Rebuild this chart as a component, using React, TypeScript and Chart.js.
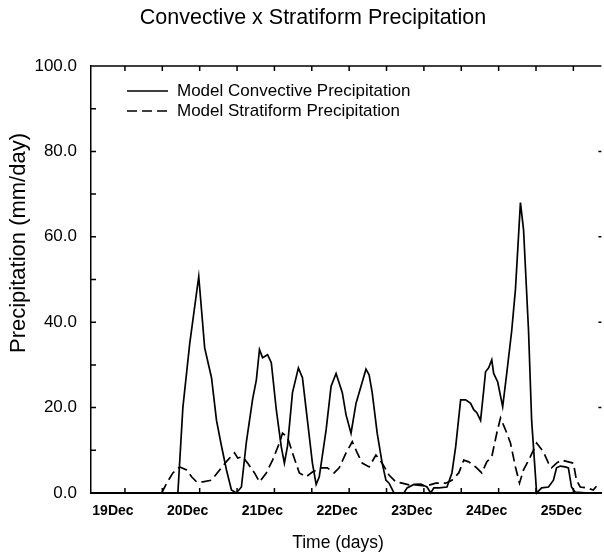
import { useEffect, useRef } from "react";
import { Chart, registerables } from "chart.js";

Chart.register(...registerables);

const TITLE = "Convective x Stratiform Precipitation";
const X_TITLE = "Time (days)";
const Y_TITLE = "Precipitation (mm/day)";
const SERIES_NAMES = ["Model Convective Precipitation", "Model Stratiform Precipitation"];

// time in hours since 19 Dec 00Z
const convHours = [
  17.0, 18.6, 20.8, 23.7, 25.6, 27.8, 29.4, 31.0, 32.6, 34.2, 35.8, 37.4, 39.0, 41.0, 42.2, 43.2, 44.2,
  45.8, 47.0, 48.6, 50.2, 51.2, 52.2, 53.8, 55.7, 57.0, 58.6, 60.2, 61.4, 62.4, 64.6, 66.2, 67.8, 69.8,
  71.0, 72.6, 74.2, 75.2, 77.4, 78.4, 79.4, 81.0, 82.6, 83.8, 84.8, 86.4, 89.6, 90.6, 92.8, 95.0, 97.0,
  98.2, 99.2, 100.8, 103.4, 105.0, 106.2, 107.8, 109.4, 111.0, 112.0, 113.0, 114.2, 115.2, 115.8, 116.8,
  117.8, 118.4, 119.7, 121.3, 122.6, 124.2, 125.4, 127.0, 128.0, 129.6, 130.6, 132.2, 133.8, 136.0,
  137.6, 138.6, 139.8, 141.4, 142.4, 143.4, 144.6, 148.8,
];
const convValues = [
  0, 20, 35, 50.7, 34, 27, 17, 11, 5.4, 0.7, 0, 1.4, 12, 22, 26.5, 33.6, 31.7,
  32.4, 30.5, 19.5, 10.8, 7, 11, 23.5, 29.3, 27, 17, 7, 2, 3.8, 14.8, 25, 28, 23.5,
  18.3, 14, 21, 23.5, 29, 27.7, 23.5, 14, 7, 3, 2.3, 0, 0, 1.2, 2, 2.1, 1.4,
  0, 1.2, 1.2, 1.4, 4.7, 10.8, 21.8, 21.8, 21, 19.5, 18.8, 17, 24, 28.4, 29.3,
  31.2, 28, 26, 20.2, 28, 38, 47.7, 68, 61.7, 38, 17, 0, 1.2, 1.4,
  3, 5.9, 6.3, 6.1, 5.9, 1.4, 0.2, 0,
];

const stratHours = [
  11.8, 13.4, 15.4, 17.6, 19.8, 21.4, 23.0, 25.0, 27.8, 30.4, 33.0, 35.2, 36.2, 37.8, 39.4, 41.6, 43.2,
  45.4, 47.4, 49.6, 50.6, 52.2, 53.8, 56.0, 58.2, 60.2, 63.0, 65.0, 67.2, 68.8, 71.0, 73.0, 74.6, 76.2,
  78.4, 80.6, 82.6, 84.8, 87.0, 89.0, 91.2, 93.4, 96.6, 99.8, 103.0, 105.0, 107.2, 108.8, 110.4, 112.6,
  114.6, 116.2, 117.8, 119.4, 120.6, 122.2, 123.8, 125.4, 126.7, 128.0, 130.2, 132.2, 134.4, 136.0,
  137.0, 138.6, 140.2, 142.4, 144.0, 145.0, 146.2, 148.2, 150.4, 151.4,
];
const stratValues = [
  0, 2.3, 4.7, 6.1, 5.4, 3.8, 2.6, 2.6, 3, 5.4, 7.7, 9.4, 8.2, 8.5, 7, 4.7, 2.6,
  4.7, 7.7, 11.7, 14, 13.1, 9.4, 4.7, 3.8, 4.9, 5.9, 5.9, 4.7, 5.9, 9.4, 12, 9.4, 7,
  6.1, 8.9, 7, 4.2, 2.6, 2.3, 1.9, 1.9, 1.6, 2.3, 2.3, 3, 4.7, 7.7, 7.3, 6.1,
  4.7, 7.3, 8.5, 14, 17.6, 14.8, 11.7, 6.1, 2.3, 5.4, 8.5, 11.7, 9.6, 7,
  5.9, 7, 7.7, 7.3, 7, 3, 1.4, 1.2, 0.7, 1.6,
];

const dayLabels = ["19Dec", "20Dec", "21Dec", "22Dec", "23Dec", "24Dec", "25Dec"];
const xTickHours = [0, 12, 24, 36, 48, 60, 72, 84, 96, 108, 120, 132, 144];
const yTickValues = [0, 20, 40, 60, 80, 100];
const yMinorTicks = [0, 10, 20, 30, 40, 50, 60, 70, 80, 90, 100];
const X_MIN = -10.9;
const X_MAX = 153;
const Y_MIN = 0;
const Y_MAX = 100;

const FONT = "'Liberation Sans', Arial, Helvetica, sans-serif";

const framePlugin = {
  id: "frameTicks",
  afterDatasetsDraw(chart: any) {
    const { ctx, chartArea, scales } = chart;
    const { left, right, top, bottom } = chartArea;
    const x = scales.x;
    const y = scales.y;
    ctx.save();
    ctx.strokeStyle = "#000";
    ctx.lineWidth = 1.5;
    ctx.setLineDash([]);
    ctx.beginPath();
    ctx.moveTo(left, top);
    ctx.lineTo(right, top);
    for (const h of xTickHours) {
      const px = x.getPixelForValue(h);
      ctx.moveTo(px, bottom);
      ctx.lineTo(px, bottom - 5);
      ctx.moveTo(px, top);
      ctx.lineTo(px, top + 5);
    }
    for (const v of yMinorTicks) {
      const py = y.getPixelForValue(v);
      ctx.moveTo(left, py);
      ctx.lineTo(left + 5, py);
    }
    for (const v of yTickValues) {
      if (v === Y_MIN || v === Y_MAX) continue;
      const py = y.getPixelForValue(v);
      ctx.moveTo(right, py);
      ctx.lineTo(right - 3, py);
    }
    ctx.stroke();
    ctx.restore();
  },
};

const textPlugin = {
  id: "titlesLegend",
  afterDraw(chart: any) {
    const { ctx, chartArea } = chart;
    ctx.save();
    ctx.fillStyle = "#000";
    ctx.textBaseline = "middle";
    ctx.textAlign = "center";

    // chart title
    ctx.font = `21.5px ${FONT}`;
    ctx.fillText(TITLE, 313, 18);

    // x axis title
    ctx.font = `17.5px ${FONT}`;
    ctx.fillText(X_TITLE, chartArea.left + 247, 543);

    // y axis title
    ctx.save();
    ctx.translate(19, chartArea.top + 177);
    ctx.rotate(-Math.PI / 2);
    ctx.font = `22px ${FONT}`;
    ctx.fillText(Y_TITLE, 0, 0);
    ctx.restore();

    // legend
    ctx.textAlign = "left";
    ctx.font = `17px ${FONT}`;
    chart.data.datasets.forEach((ds: any, i: number) => {
      const yy = chartArea.top + 25 + i * 20;
      const x0 = chartArea.left + 36;
      ctx.strokeStyle = ds.borderColor;
      ctx.lineWidth = ds.borderWidth;
      ctx.setLineDash(ds.borderDash || []);
      ctx.beginPath();
      ctx.moveTo(x0, yy);
      ctx.lineTo(x0 + 41, yy);
      ctx.stroke();
      ctx.setLineDash([]);
      ctx.fillText(ds.label, x0 + 50, yy);
    });
    ctx.restore();
  },
};

export default function App() {
  const canvasRef = useRef<HTMLCanvasElement | null>(null);

  useEffect(() => {
    if (!canvasRef.current) return;
    const chart = new Chart(canvasRef.current, {
      type: "line",
      data: {
        datasets: [
          {
            label: SERIES_NAMES[0],
            data: convHours.map((h, i) => ({ x: h, y: convValues[i] })),
            borderColor: "#000",
            borderWidth: 1.7,
            pointRadius: 0,
            tension: 0,
            fill: false,
            clip: false,
          },
          {
            label: SERIES_NAMES[1],
            data: stratHours.map((h, i) => ({ x: h, y: stratValues[i] })),
            borderColor: "#000",
            borderWidth: 1.7,
            borderDash: [10, 5],
            pointRadius: 0,
            tension: 0,
            fill: false,
            clip: false,
          },
        ],
      },
      options: {
        animation: false,
        responsive: true,
        maintainAspectRatio: false,
        layout: { padding: { top: 66, right: 0, bottom: 0, left: 0 } },
        plugins: {
          legend: { display: false },
          title: { display: false },
          tooltip: { enabled: false },
        },
        scales: {
          x: {
            type: "linear",
            min: X_MIN,
            max: X_MAX,
            afterBuildTicks: (scale: any) => {
              scale.ticks = xTickHours.map((v) => ({ value: v }));
            },
            afterFit: (scale: any) => {
              scale.height = 62;
            },
            grid: { display: false, drawTicks: false, tickLength: 0 },
            border: { display: true, color: "#000", width: 2 },
            ticks: {
              autoSkip: false,
              maxRotation: 0,
              padding: 10,
              labelOffset: -12,
              color: "#000",
              font: { family: FONT, size: 14, weight: "bold" },
              callback: (value: any) => (Number(value) % 24 === 0 ? dayLabels[Number(value) / 24] : ""),
            },
            title: { display: false },
          },
          y: {
            type: "linear",
            min: Y_MIN,
            max: Y_MAX,
            afterBuildTicks: (scale: any) => {
              scale.ticks = yTickValues.map((v) => ({ value: v }));
            },
            afterFit: (scale: any) => {
              scale.width = 91;
            },
            grid: { display: false, drawTicks: false, tickLength: 0 },
            border: { display: true, color: "#000", width: 1.5 },
            ticks: {
              padding: 14,
              color: "#000",
              font: { family: FONT, size: 17 },
              callback: (value: any) => Number(value).toFixed(1),
            },
            title: { display: false },
          },
        },
      },
      plugins: [framePlugin, textPlugin],
    } as any);
    return () => chart.destroy();
  }, []);

  return (
    <div style={{ position: "absolute", left: 0, top: 0, width: 604, height: 555, background: "#fff" }}>
      <canvas ref={canvasRef} />
    </div>
  );
}
